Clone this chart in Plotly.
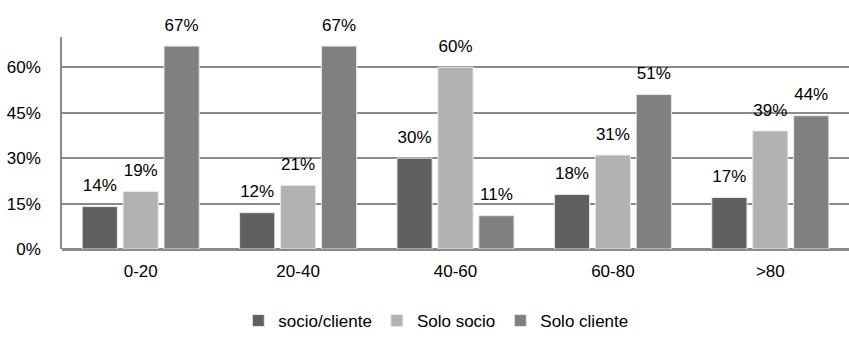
import plotly.graph_objects as go

categories = ["0-20", "20-40", "40-60", "60-80", ">80"]
series_names = ["socio/cliente", "Solo socio", "Solo cliente"]
socio_cliente = [0.14, 0.12, 0.30, 0.18, 0.17]
solo_socio = [0.19, 0.21, 0.60, 0.31, 0.39]
solo_cliente = [0.67, 0.67, 0.11, 0.51, 0.44]
tick_values = [0, 0.15, 0.30, 0.45, 0.60]
tick_labels = ["0%", "15%", "30%", "45%", "60%"]

colors = ["#606060", "#b2b2b2", "#808080"]
series = [socio_cliente, solo_socio, solo_cliente]
FONT = "Liberation Sans, Arial"
GAP = 0.22

fig = go.Figure()
for name, vals, col in zip(series_names, series, colors):
    fig.add_trace(go.Bar(
        x=categories, y=vals, name=name,
        marker=dict(color=col, line=dict(color="#e8e8e8", width=1)),
    ))

# value labels, grouped like the bars and lifted by an invisible marker
for name, vals in zip(series_names, series):
    fig.add_trace(go.Scatter(
        x=categories, y=vals, mode="markers+text",
        text=[f"{round(v * 100)}%" for v in vals],
        textposition="top center",
        textfont=dict(family=FONT, size=17, color="#000"),
        marker=dict(size=16, color="rgba(0,0,0,0)"),
        showlegend=False, hoverinfo="skip", cliponaxis=False,
    ))

fig.update_layout(
    width=849, height=339,
    margin=dict(l=62, r=0, t=37, b=87),
    paper_bgcolor="white", plot_bgcolor="white",
    barmode="group", bargap=GAP, bargroupgap=0.14,
    scattermode="group", scattergap=GAP,
    font=dict(family=FONT, size=17, color="#000"),
    legend=dict(
        orientation="h", x=0.475, xanchor="center", y=-0.34, yanchor="middle",
        font=dict(size=17), itemwidth=30, traceorder="normal",
    ),
    xaxis=dict(
        showgrid=False, showline=False, ticks="",
        tickfont=dict(size=17), ticklabelstandoff=10,
    ),
    yaxis=dict(
        range=[0, 0.70], tickvals=tick_values, ticktext=tick_labels,
        showgrid=True, gridcolor="#8a8a8a", gridwidth=1.5,
        showline=True, linecolor="#8a8a8a", linewidth=1.5,
        zeroline=True, zerolinecolor="#8a8a8a", zerolinewidth=2.5,
        ticks="", tickfont=dict(size=17), ticklabelstandoff=16,
    ),
)

fig.write_html("out.html")
